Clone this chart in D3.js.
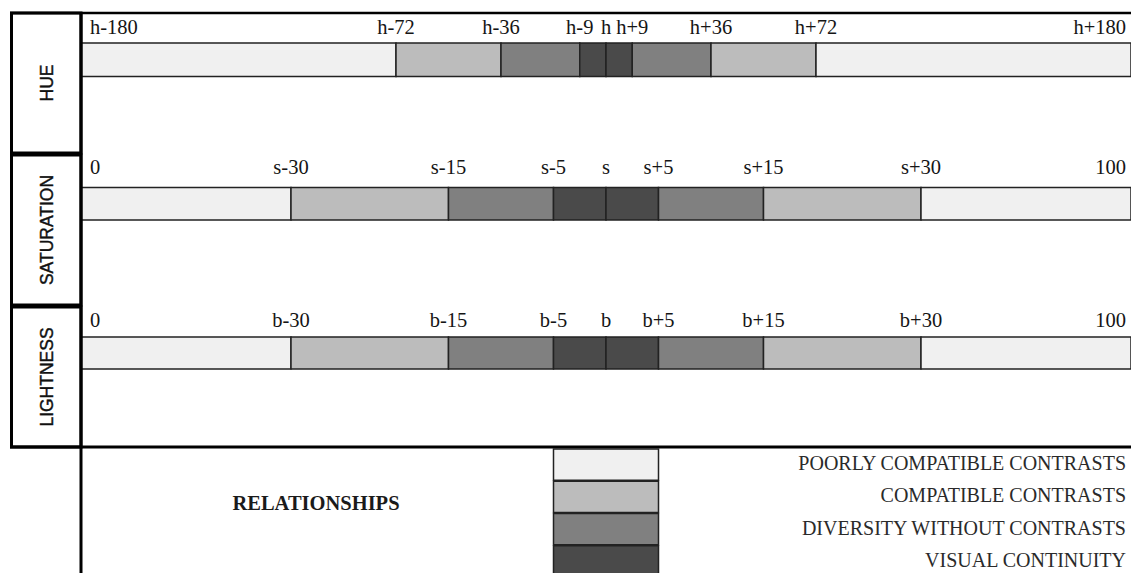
<!DOCTYPE html>
<html><head><meta charset="utf-8">
<script src="https://cdn.jsdelivr.net/npm/d3@7"></script>
<style>html,body{margin:0;padding:0;background:#fff;}svg{display:block;}</style>
</head><body>
<svg id="chart" width="1131" height="573"></svg>
<script>
// ---- data ----
const rowNames = ["HUE", "SATURATION", "LIGHTNESS"];
const hueTicks = [-180, -72, -36, -9, 0, 9, 36, 72, 180];
const hueLabels = ["h-180", "h-72", "h-36", "h-9", "h", "h+9", "h+36", "h+72", "h+180"];
const satTicks = [0, 20, 35, 45, 50, 55, 65, 80, 100];
const satLabels = ["0", "s-30", "s-15", "s-5", "s", "s+5", "s+15", "s+30", "100"];
const lightTicks = [0, 20, 35, 45, 50, 55, 65, 80, 100];
const lightLabels = ["0", "b-30", "b-15", "b-5", "b", "b+5", "b+15", "b+30", "100"];
const segmentClasses = [0, 1, 2, 3, 3, 2, 1, 0];
const relationships = ["POORLY COMPATIBLE CONTRASTS", "COMPATIBLE CONTRASTS", "DIVERSITY WITHOUT CONTRASTS", "VISUAL CONTINUITY"];
const relColors = ["#f0f0f0", "#bcbcbc", "#808080", "#4a4a4a"];

// ---- layout ----
const svg = d3.select("#chart");
const X0 = 81, X1 = 1131;
const serif = "'Liberation Serif','Times New Roman',serif";
const sans = "'Liberation Sans',Arial,sans-serif";

const rows = [
  {name: rowNames[0], ticks: hueTicks, labels: hueLabels, domain: [-180, 180], box: [13, 153], barY: 43, barH: 33.5, labelY: 34},
  {name: rowNames[1], ticks: satTicks, labels: satLabels, domain: [0, 100], box: [155, 305], barY: 187.5, barH: 32.5, labelY: 174},
  {name: rowNames[2], ticks: lightTicks, labels: lightLabels, domain: [0, 100], box: [307, 447], barY: 337, barH: 32, labelY: 327}
];
const color = d3.scaleOrdinal().domain(d3.range(4)).range(relColors);

rows.forEach(r => {
  const x = d3.scaleLinear().domain(r.domain).range([X0, X1]);
  r.x = x;
  const g = svg.append("g");
  const segs = d3.pairs(r.ticks).map((p, i) => ({a: p[0], b: p[1], c: segmentClasses[i]}));
  g.selectAll("rect").data(segs).join("rect")
    .attr("x", d => x(d.a)).attr("y", r.barY)
    .attr("width", d => x(d.b) - x(d.a)).attr("height", r.barH)
    .attr("fill", d => color(d.c))
    .attr("stroke", "#222").attr("stroke-width", 1.5);
  const n = r.ticks.length;
  g.selectAll("text").data(r.ticks).join("text")
    .attr("x", (d, i) => i === 0 ? x(d) + 9 : i === n - 1 ? x(d) - 5 : x(d))
    .attr("y", r.labelY)
    .attr("text-anchor", (d, i) => i === 0 ? "start" : i === n - 1 ? "end" : "middle")
    .attr("font-family", serif).attr("font-size", 20.5).attr("fill", "#151515")
    .text((d, i) => r.labels[i]);
  // left box
  svg.append("rect").attr("x", 11.5).attr("y", r.box[0]).attr("width", 69.5).attr("height", r.box[1] - r.box[0])
    .attr("fill", "none").attr("stroke", "#000").attr("stroke-width", 3);
  svg.append("text")
    .attr("transform", `translate(52.5,${(r.box[0] + r.box[1]) / 2}) rotate(-90)`)
    .attr("text-anchor", "middle")
    .attr("font-family", sans).attr("font-size", 17.5).attr("fill", "#111")
    .attr("stroke", "#111").attr("stroke-width", 0.4)
    .text(r.name);
});

// frame lines
svg.append("line").attr("x1", 10).attr("x2", X1).attr("y1", 13).attr("y2", 13).attr("stroke", "#000").attr("stroke-width", 2.5);
svg.append("line").attr("x1", 10).attr("x2", X1).attr("y1", 447).attr("y2", 447).attr("stroke", "#000").attr("stroke-width", 3);
svg.append("line").attr("x1", 81).attr("x2", 81).attr("y1", 13).attr("y2", 573).attr("stroke", "#000").attr("stroke-width", 3);

// legend
const xs = rows[1].x;
const yb = d3.scaleBand().domain(relationships).range([448, 577]);
const lg = svg.append("g");
lg.selectAll("rect").data(relationships).join("rect")
  .attr("x", xs(45)).attr("y", d => yb(d) + 1)
  .attr("width", xs(55) - xs(45)).attr("height", yb.bandwidth() - 1)
  .attr("fill", (d, i) => relColors[i]).attr("stroke", "#222").attr("stroke-width", 1.5);
lg.selectAll("text").data(relationships).join("text")
  .attr("x", 1126).attr("y", d => yb(d) + yb.bandwidth() / 2 + 6)
  .attr("text-anchor", "end")
  .attr("font-family", serif).attr("font-size", 20).attr("fill", "#2a2a2a")
  .text(d => d);
svg.append("text").attr("x", 316).attr("y", 510).attr("text-anchor", "middle")
  .attr("font-family", serif).attr("font-size", 20.5).attr("font-weight", "bold").attr("fill", "#1a1a1a")
  .text("RELATIONSHIPS");
</script>
</body></html>
